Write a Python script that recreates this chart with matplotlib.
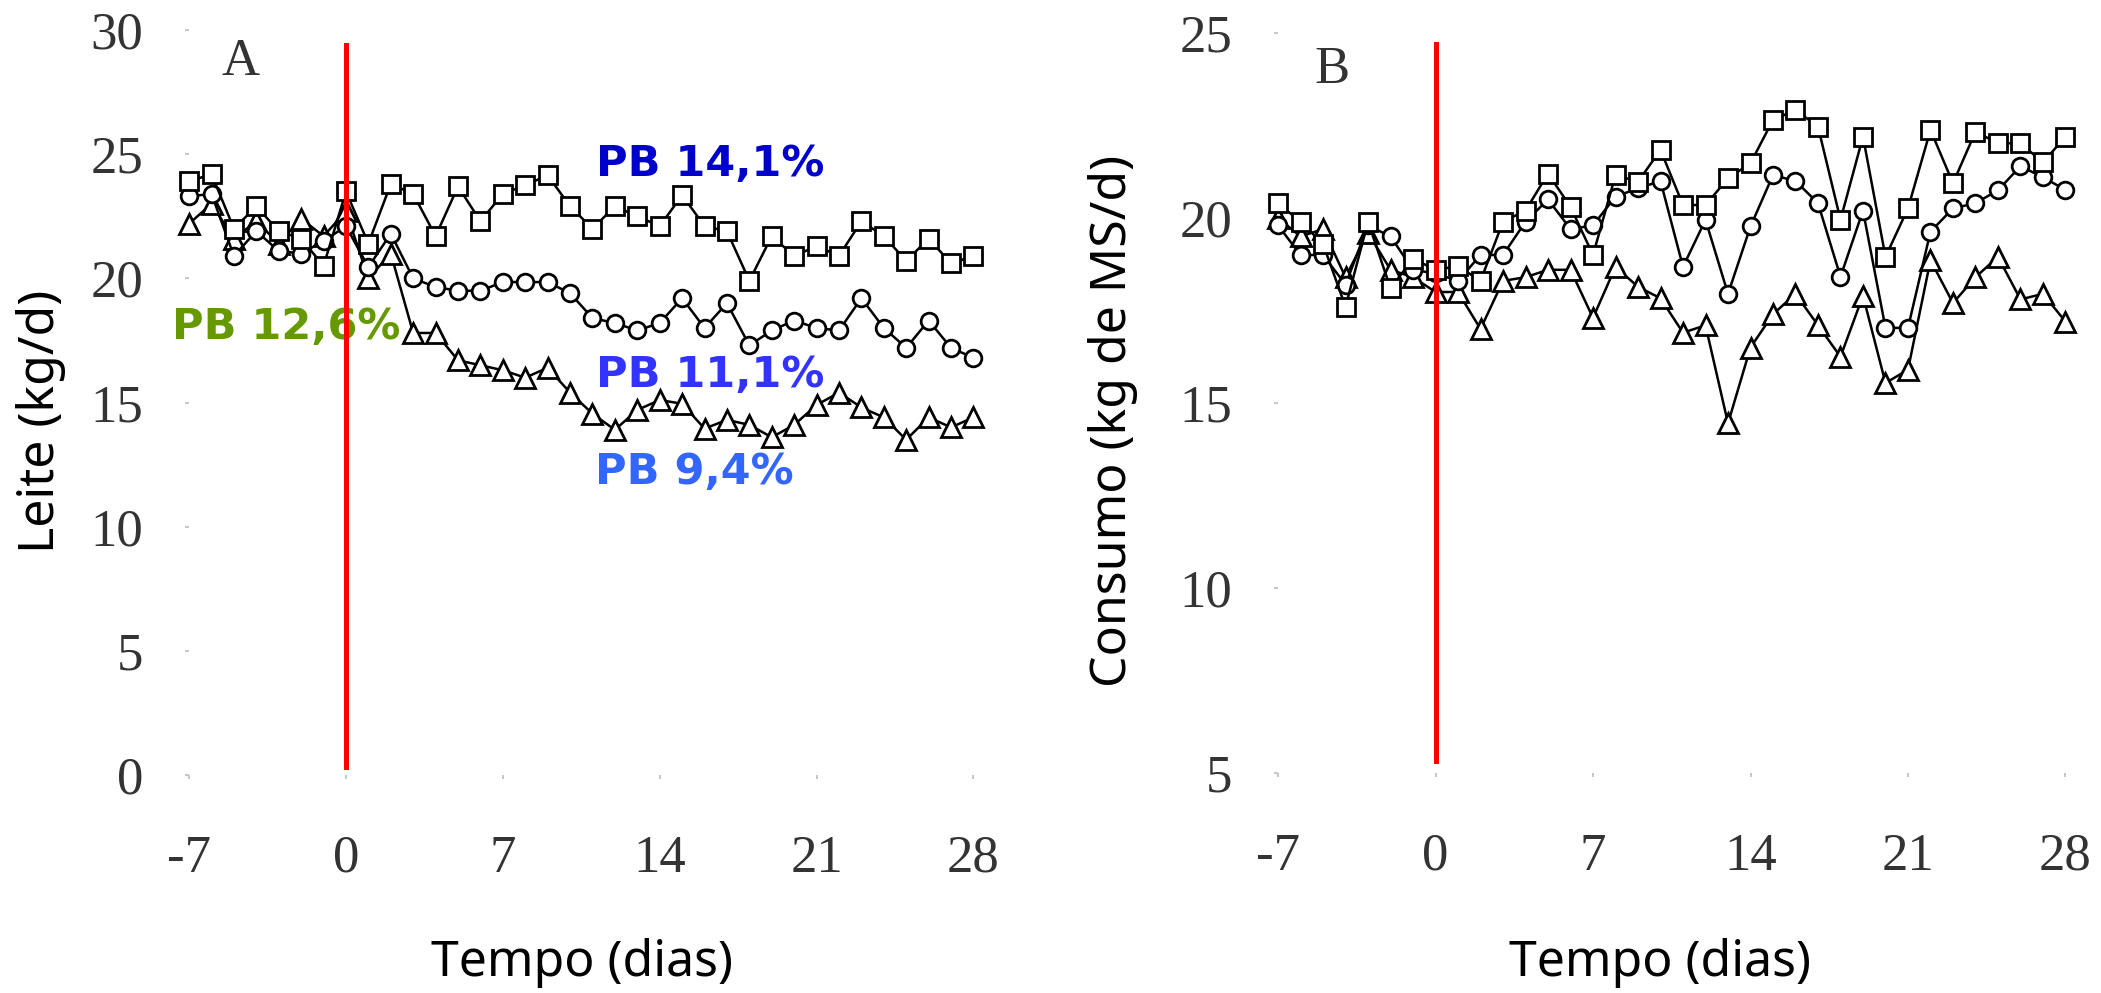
import numpy as np
import matplotlib.pyplot as plt

plt.rcParams['axes.unicode_minus'] = False

# dias do experimento (-7 a 28)
dias = np.arange(-7, 29)

# Painel A - producao de leite (kg/d)
leite_141 = [23.9, 24.2, 22.0, 22.9, 21.9, 21.6, 20.5, 23.5, 21.4, 23.8, 23.4, 21.7,
             23.7, 22.3, 23.4, 23.75, 24.15, 22.9, 22.0, 22.9, 22.5, 22.1, 23.35, 22.1,
             21.9, 19.9, 21.7, 20.9, 21.3, 20.9, 22.3, 21.7, 20.7, 21.6, 20.6, 20.9]
leite_111 = [23.3, 23.4, 20.9, 21.9, 21.1, 21.0, 21.5, 22.1, 20.45, 21.8, 20.0, 19.65,
             19.5, 19.5, 19.85, 19.85, 19.85, 19.4, 18.4, 18.2, 17.9, 18.2, 19.2, 18.0,
             19.0, 17.3, 17.9, 18.3, 18.0, 17.9, 19.2, 18.0, 17.2, 18.3, 17.2, 16.8]
leite_94 = [22.2, 23.0, 21.6, 22.3, 21.4, 22.4, 21.7, 22.7, 20.0, 21.0, 17.8, 17.8,
            16.7, 16.5, 16.3, 16.0, 16.4, 15.4, 14.55, 13.9, 14.7, 15.1, 14.95, 13.95,
            14.3, 14.1, 13.6, 14.1, 14.9, 15.4, 14.8, 14.4, 13.5, 14.4, 14.0, 14.4]

# Painel B - consumo (kg de MS/d)
consumo_141 = [20.4, 19.9, 19.3, 17.6, 19.9, 18.1, 18.9, 18.6, 18.7, 18.3, 19.9, 20.2,
               21.2, 20.3, 19.0, 21.16, 20.98, 21.84, 20.35, 20.35, 21.07, 21.48, 22.65, 22.92,
               22.47, 19.95, 22.2, 18.95, 20.26, 22.38, 20.94, 22.33, 22.02, 22.02, 21.5, 22.2]
consumo_111 = [19.8, 19.0, 19.0, 18.2, 19.8, 19.5, 18.6, 18.5, 18.3, 19.0, 19.0, 19.9,
               20.5, 19.7, 19.8, 20.58, 20.8, 21.0, 18.68, 19.95, 17.95, 19.77, 21.16, 21.0,
               20.4, 18.41, 20.2, 17.03, 17.03, 19.63, 20.26, 20.4, 20.75, 21.4, 21.1, 20.76]
consumo_94 = [20.0, 19.5, 19.7, 18.4, 19.6, 18.6, 18.4, 18.0, 18.0, 17.0, 18.3, 18.4,
              18.6, 18.6, 17.3, 18.68, 18.14, 17.83, 16.9, 17.1, 14.45, 16.5, 17.4, 17.95,
              17.1, 16.25, 17.9, 15.54, 15.9, 18.86, 17.7, 18.4, 18.95, 17.8, 17.95, 17.2]

xticks = [-7, 0, 7, 14, 21, 28]

serif = 'Liberation Serif'
sans = ['Noto Sans', 'DejaVu Sans']
bold = ['DejaVu Sans']

fig = plt.figure(figsize=(21.01, 9.93), dpi=100)
axA = fig.add_axes([0.090, 0.2195, 0.384, 0.7503])
axB = fig.add_axes([0.6083, 0.2215, 0.3855, 0.7453])


def desenha(ax, s141, s111, s94):
    kw = dict(color='black', lw=1.8, mfc='white', mec='black', mew=2.0, clip_on=False)
    ax.plot(dias, s94, marker='^', ms=14, zorder=3, **kw)
    ax.plot(dias, s111, marker='o', ms=12, zorder=4, **kw)
    ax.plot(dias, s141, marker='s', ms=13, zorder=5, **kw)
    for sp in ax.spines.values():
        sp.set_visible(False)
    ax.set_xticks(xticks)
    ax.set_xlim(-7, 29)
    ax.tick_params(axis='both', length=3, width=1.5, color='#c8c8c8',
                   labelsize=38, labelcolor='#333333')
    ax.tick_params(axis='x', pad=40)
    ax.tick_params(axis='y', pad=30)


desenha(axA, leite_141, leite_111, leite_94)
axA.set_ylim(0, 30)
axA.set_yticks([0, 5, 10, 15, 20, 25, 30])
for lab in axA.get_xticklabels() + axA.get_yticklabels():
    lab.set_family(serif)
axA.axvline(0, ymin=0.011, ymax=0.98, color='red', lw=3.6, zorder=10)
axA.text(-4.7, 28.7, 'A', family=serif, fontsize=38, color='#333333', ha='center', va='center')
axA.text(11.15, 24.6, 'PB 14,1%', family=bold, fontsize=31, weight='bold',
         color='#0000CC', ha='left', va='center', zorder=6)
axA.text(11.15, 16.1, 'PB 11,1%', family=bold, fontsize=31, weight='bold',
         color='#3333FF', ha='left', va='center', zorder=6)
axA.text(11.1, 12.2, 'PB 9,4%', family=bold, fontsize=31, weight='bold',
         color='#3366FF', ha='left', va='center', zorder=6)
axA.text(-7.75, 18.05, 'PB 12,6%', family=bold, fontsize=31, weight='bold',
         color='#669900', ha='left', va='center', zorder=6, clip_on=False)

desenha(axB, consumo_141, consumo_111, consumo_94)
axB.set_ylim(5, 25)
axB.set_yticks([5, 10, 15, 20, 25])
for lab in axB.get_xticklabels() + axB.get_yticklabels():
    lab.set_family(serif)
axB.axvline(0, ymin=0.016, ymax=0.985, color='red', lw=3.6, zorder=10)
axB.text(-4.6, 24.0, 'B', family=serif, fontsize=38, color='#333333', ha='center', va='center')

fig.text(41 / 2101, 1 - 421 / 993, 'Leite (kg/d)', family=sans, fontsize=36,
         rotation=90, ha='center', va='center')
fig.text(1113 / 2101, 1 - 421 / 993, 'Consumo (kg de MS/d)', family=sans, fontsize=36,
         rotation=90, ha='center', va='center')
fig.text(582 / 2101, 1 - 963 / 993, 'Tempo (dias)', family=sans, fontsize=36,
         ha='center', va='center')
fig.text(1660 / 2101, 1 - 963 / 993, 'Tempo (dias)', family=sans, fontsize=36,
         ha='center', va='center')

fig.savefig('out.png', dpi=100, facecolor='white')
